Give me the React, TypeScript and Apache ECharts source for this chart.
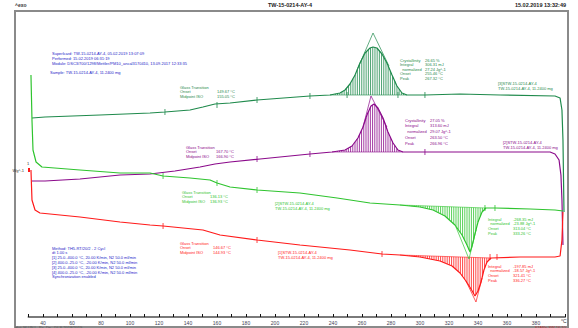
import React, { useEffect, useRef } from "react";
import * as echarts from "echarts";

type P = [number, number];

// Temperature (°C) vs normalized heat flow (Wg^-1, offset per curve)
const curve1Red: P[] = [
  [31.7, 7.35], [32.4, 5.85], [34.5, 5.35], [37.9, 5.2], [65.5, 5.0], [93.1, 4.75], [113.8, 4.6],
  [122.8, 4.55], [150.3, 4.35], [162.1, 4.1], [187.6, 3.85], [217.2, 3.6], [251.7, 3.35], [273.8, 3.15],
  [286.2, 3.1], [300.0, 3.0], [313.8, 2.8], [322.1, 2.55], [327.6, 2.2], [331.7, 1.8], [335.2, 1.4],
  [337.9, 1.05], [340.0, 1.3], [342.1, 1.75], [344.1, 2.35], [346.2, 2.75], [349.0, 2.95], [369.0, 3.0],
  [393.1, 3.0], [396.6, 3.05], [397.9, 3.85], [398.6, 5.25],
];
const curve2Purple: P[] = [
  [32.4, 6.8], [41.4, 6.8], [65.5, 6.9], [93.1, 7.1], [113.8, 7.15], [131.0, 7.3], [148.3, 7.5],
  [158.6, 7.65], [169.0, 7.75], [189.7, 7.9], [224.1, 8.15], [239.3, 8.25], [248.3, 8.35], [253.1, 8.55],
  [257.2, 8.95], [260.7, 9.5], [263.4, 10.1], [266.2, 10.55], [268.3, 10.65], [271.0, 10.45], [274.5, 9.95],
  [277.9, 9.25], [281.4, 8.7], [284.8, 8.35], [288.3, 8.25], [303.4, 8.25], [327.6, 8.25], [355.2, 8.25],
  [389.7, 8.25], [393.1, 8.15], [395.9, 7.85], [397.2, 7.1], [397.9, 5.85], [398.6, 3.6],
];
const curve3Green: P[] = [
  [31.7, 12.1], [32.4, 9.85], [33.1, 8.35], [35.2, 7.75], [39.3, 7.5], [65.5, 7.35], [93.1, 7.2],
  [113.8, 7.2], [122.8, 7.05], [141.4, 6.95], [155.2, 6.85], [160.0, 6.7], [169.0, 6.5], [187.6, 6.35],
  [217.2, 6.2], [242.8, 5.95], [265.5, 5.7], [286.2, 5.6], [300.0, 5.5], [309.0, 5.35], [317.2, 5.05],
  [324.1, 4.6], [329.0, 4.1], [332.4, 3.6], [334.5, 3.25], [335.9, 3.55], [337.9, 4.15], [340.0, 4.75],
  [342.8, 5.25], [345.5, 5.45], [351.7, 5.45], [375.9, 5.4], [393.1, 5.35], [398.6, 5.3],
];
const curve4DarkGreen: P[] = [
  [32.4, 9.95], [41.4, 10.0], [79.3, 10.1], [113.8, 10.2], [124.1, 10.25], [141.4, 10.35], [150.3, 10.5],
  [158.6, 10.65], [169.0, 10.7], [187.6, 10.85], [224.1, 11.05], [237.9, 11.1], [244.8, 11.2], [248.3, 11.35],
  [251.7, 11.65], [255.2, 12.1], [258.6, 12.7], [262.1, 13.2], [265.5, 13.45], [267.6, 13.5], [270.3, 13.45],
  [273.8, 13.15], [277.2, 12.7], [280.7, 12.1], [284.1, 11.55], [287.6, 11.2], [291.0, 11.1], [303.4, 11.1],
  [327.6, 11.15], [355.2, 11.1], [393.1, 11.05], [396.6, 10.95], [397.9, 10.35], [398.6, 8.85], [399.3, 5.25],
];

// Peak integration limits (°C)
const peakLimits: { [k: string]: [number, number] } = {
  red: [286.2, 349.0],
  purple: [239.3, 288.3],
  green: [286.2, 345.5],
  darkGreen: [237.9, 291.0],
};

// Peak tangent triangles
const triRed: P[] = [[331.7, 1.8], [338.6, 0.75], [342.8, 1.95]];
const triPurple: P[] = [[260.7, 9.5], [266.2, 11.05], [277.2, 9.5]];
const triGreen: P[] = [[324.8, 4.5], [333.8, 2.9], [338.6, 4.35]];
const triDarkGreen: P[] = [[257.2, 12.45], [267.6, 14.2], [278.6, 12.55]];

// Evaluation marks
const marksRed: P[] = [[122.8, 4.55], [187.6, 3.85], [273.8, 3.15], [348.3, 3.0], [353.1, 3.0]];
const marksPurple: P[] = [[187.6, 7.9], [224.1, 8.15], [303.4, 8.25]];
const marksGreen: P[] = [[122.8, 7.05], [160.0, 6.7], [187.6, 6.35], [344.8, 5.45], [351.7, 5.45]];
const marksDarkGreen: P[] = [[124.1, 10.25], [160.0, 10.6], [187.6, 10.85], [224.1, 11.05], [249.7, 11.1], [284.8, 11.1], [303.4, 11.1]];

const xTickLabels = [40, 60, 80, 100, 120, 140, 160, 180, 200, 220, 240, 260, 280, 300, 320, 340, 360, 380];

const C_RED = "#ff1a1a";
const C_PURPLE = "#8b0a8b";
const C_GREEN = "#2fc42f";
const C_DGREEN = "#1f8a4c";
const C_BLUE = "#2424c8";
const FONT = "Liberation Sans, Arial, sans-serif";

function hatch(points: P[], lim: [number, number], color: string) {
  const seg = points.filter((p) => p[0] >= lim[0] && p[0] <= lim[1]);
  return {
    type: "custom",
    silent: true,
    z: 1,
    data: [seg[0]],
    renderItem: (_params: any, api: any) => {
      const px = seg.map((p) => api.coord(p));
      const x0 = px[0][0];
      const x1 = px[px.length - 1][0];
      const b0 = px[0][1];
      const b1 = px[px.length - 1][1];
      const children: any[] = [];
      for (let x = x0 + 1; x < x1; x += 2.2) {
        let y: number | null = null;
        for (let i = 0; i < px.length - 1; i++) {
          if (x >= px[i][0] && x <= px[i + 1][0]) {
            const d = px[i + 1][0] - px[i][0] || 1;
            const t = (x - px[i][0]) / d;
            y = px[i][1] + t * (px[i + 1][1] - px[i][1]);
            break;
          }
        }
        if (y == null) continue;
        const yb = b0 + ((x - x0) / (x1 - x0)) * (b1 - b0);
        children.push({
          type: "line",
          shape: { x1: x, y1: yb, x2: x, y2: y },
          style: { stroke: color, lineWidth: 0.8 },
        });
      }
      children.push({
        type: "line",
        shape: { x1: x0, y1: b0, x2: x1, y2: b1 },
        style: { stroke: color, lineWidth: 0.6 },
      });
      return { type: "group", children };
    },
  };
}

function curve(data: P[], color: string) {
  return {
    type: "line",
    data,
    showSymbol: false,
    lineStyle: { color, width: 1.2 },
    itemStyle: { color },
    z: 3,
  };
}

function tri(data: P[], color: string) {
  return {
    type: "line",
    data,
    showSymbol: false,
    lineStyle: { color, width: 0.7 },
    z: 2,
  };
}

function marks(data: P[], color: string) {
  return {
    type: "scatter",
    data,
    symbol: "rect",
    symbolSize: [1, 6],
    itemStyle: { color },
    z: 4,
  };
}

function txt(x: number, y: number, text: string, color: string, size = 4, align = "left", bold = false) {
  return {
    type: "text",
    x,
    y,
    silent: true,
    style: {
      text,
      fill: color,
      fontSize: size,
      fontFamily: FONT,
      fontWeight: bold ? "bold" : "normal",
      textAlign: align,
      align,
      textVerticalAlign: "middle",
      verticalAlign: "middle",
    },
  };
}

function block(x: number, xv: number, y0: number, dy: number, labels: string[], values: string[], color: string) {
  const out: any[] = [];
  labels.forEach((l, i) => {
    out.push(txt(x, y0 + i * dy, l, color));
    if (values[i]) out.push(txt(xv, y0 + i * dy, values[i], color));
  });
  return out;
}

export default function App() {
  const ref = useRef<HTMLDivElement>(null);
  useEffect(() => {
    if (!ref.current) return;
    const chart = echarts.init(ref.current, undefined, { renderer: "svg" });
    const graphics: any[] = [
      { type: "rect", shape: { x: 15, y: 11, width: 553, height: 316 }, style: { fill: "none", stroke: "#8a8a8a", lineWidth: 2 }, silent: true },
      txt(15, 5, "^exo", "#333", 5, "left", true),
      txt(290, 5, "TW-15-0214-AY-4", "#222", 5.5, "center", true),
      txt(566, 5, "15.02.2019 13:32:49", "#222", 5.5, "right", true),
      txt(561, 321, "°C", "#333", 5),
      txt(28, 163, "1", "#333", 4, "center"),
      txt(24, 170, "Wg^-1", "#333", 4, "right"),
      { type: "rect", shape: { x: 28, y: 168, width: 2, height: 4 }, style: { fill: C_RED }, silent: true },
      // header
      txt(52, 53, "Superlcard: TW-15-0214-AY-4, 05.02.2019 13:07:09", C_BLUE),
      txt(52, 58, "Performed: 15.02.2019 06:31:19", C_BLUE),
      txt(52, 63, "Module: DSC3/700/1298/Mettler/PM10_ancal3170410, 13.09.2017 12:33:35", C_BLUE),
      txt(50, 72, "Sample: TW-15-0214-AY-4, 11.2400 mg", C_BLUE),
      // method
      ...block(52, 52, 248, 4.8, [
        "Method: TH5-RT/20/2 - 2 Cycl",
        "dt 1.00 s",
        "[1] 25.0..400.0 °C, 20.00 K/min, N2 50.0 ml/min",
        "[2] 400.0..25.0 °C, -20.00 K/min, N2 50.0 ml/min",
        "[3] 25.0..400.0 °C, 20.00 K/min, N2 50.0 ml/min",
        "[4] 400.0..25.0 °C, -20.00 K/min, N2 50.0 ml/min",
        "Synchronization enabled",
      ], [], C_BLUE),
      // glass transitions
      ...block(180, 217, 87, 4.8, ["Glass Transition", "Onset", "Midpoint ISO"], ["", "149.67 °C", "155.05 °C"], C_DGREEN),
      ...block(186, 216, 147, 4.8, ["Glass Transition", "Onset", "Midpoint ISO"], ["", "167.70 °C", "166.90 °C"], C_PURPLE),
      ...block(182, 210, 192, 4.8, ["Glass Transition", "Onset", "Midpoint ISO"], ["", "136.13 °C", "136.93 °C"], C_GREEN),
      ...block(180, 213, 243, 4.8, ["Glass Transition", "Onset", "Midpoint ISO"], ["", "146.67 °C", "144.93 °C"], C_RED),
      // peaks
      ...block(400, 425, 60, 4.6, ["Crystallinity", "Integral", "  normalized", "Onset", "Peak"], ["26.65 %", "306.31 mJ", "27.24 Jg^-1", "255.46 °C", "267.32 °C"], C_DGREEN),
      ...block(405, 430, 120, 5.8, ["Crystallinity", "Integral", "  normalized", "Onset", "Peak"], ["27.05 %", "313.60 mJ", "29.07 Jg^-1", "263.50 °C", "266.96 °C"], C_PURPLE),
      ...block(488, 513, 219, 4.8, ["Integral", "  normalized", "Onset", "Peak"], ["-268.35 mJ", "-23.88 Jg^-1", "313.04 °C", "333.26 °C"], C_GREEN),
      ...block(488, 513, 266, 4.8, ["Integral", "  normalized", "Onset", "Peak"], ["-197.85 mJ", "-18.57 Jg^-1", "321.41 °C", "336.27 °C"], C_RED),
      // curve labels
      txt(498, 83, "[3]STW-15-0214-AY-4", C_DGREEN),
      txt(498, 88, "TW-15-0214-AY-4, 11.2400 mg", C_DGREEN),
      txt(503, 142, "[2]STW-15-0214-AY-4", C_PURPLE),
      txt(503, 147, "TW-15-0214-AY-4, 11.2400 mg", C_PURPLE),
      txt(275, 203, "[2]STW-15-0214-AY-4", C_GREEN),
      txt(275, 208, "TW-15-0214-AY-4, 11.2400 mg", C_GREEN),
      txt(278, 252, "[1]STW-15-0214-AY-4", C_RED),
      txt(278, 257, "TW-15-0214-AY-4, 11.2400 mg", C_RED),
      // footer
      txt(15, 327, "Hst: M,UN.L, Ps, Dn,  DLS 2018/2019", "#555", 4),
      txt(566, 327, "STARe SW 16.10", "#b33", 4, "right"),
    ];

    chart.setOption({
      animation: false,
      grid: { left: 28.5, right: 13, top: 11, bottom: 11 },
      xAxis: {
        type: "value",
        min: 30,
        max: 400,
        interval: 10,
        axisLine: { show: true, lineStyle: { color: "#7a7a7a", width: 2 } },
        axisTick: { show: true, inside: true, length: 3, lineStyle: { color: "#111", width: 1 } },
        axisLabel: {
          fontSize: 5,
          color: "#445",
          margin: 3,
          fontFamily: FONT,
          formatter: (v: number) => (xTickLabels.includes(v) ? String(v) : ""),
        },
        splitLine: { show: false },
      },
      yAxis: { type: "value", min: 0, max: 15.3, show: false, splitLine: { show: false } },
      series: [
        hatch(curve4DarkGreen, peakLimits.darkGreen, C_DGREEN),
        hatch(curve2Purple, peakLimits.purple, C_PURPLE),
        hatch(curve3Green, peakLimits.green, C_GREEN),
        hatch(curve1Red, peakLimits.red, C_RED),
        curve(curve4DarkGreen, C_DGREEN),
        curve(curve2Purple, C_PURPLE),
        curve(curve3Green, C_GREEN),
        curve(curve1Red, C_RED),
        tri(triDarkGreen, C_DGREEN),
        tri(triPurple, C_PURPLE),
        tri(triGreen, C_GREEN),
        tri(triRed, C_RED),
        marks(marksDarkGreen, C_DGREEN),
        marks(marksPurple, C_PURPLE),
        marks(marksGreen, C_GREEN),
        marks(marksRed, C_RED),
      ],
      graphic: graphics,
    });
    return () => chart.dispose();
  }, []);
  return <div ref={ref} style={{ position: "fixed", left: 0, top: 0, width: 578, height: 328, background: "#fff" }} />;
}
